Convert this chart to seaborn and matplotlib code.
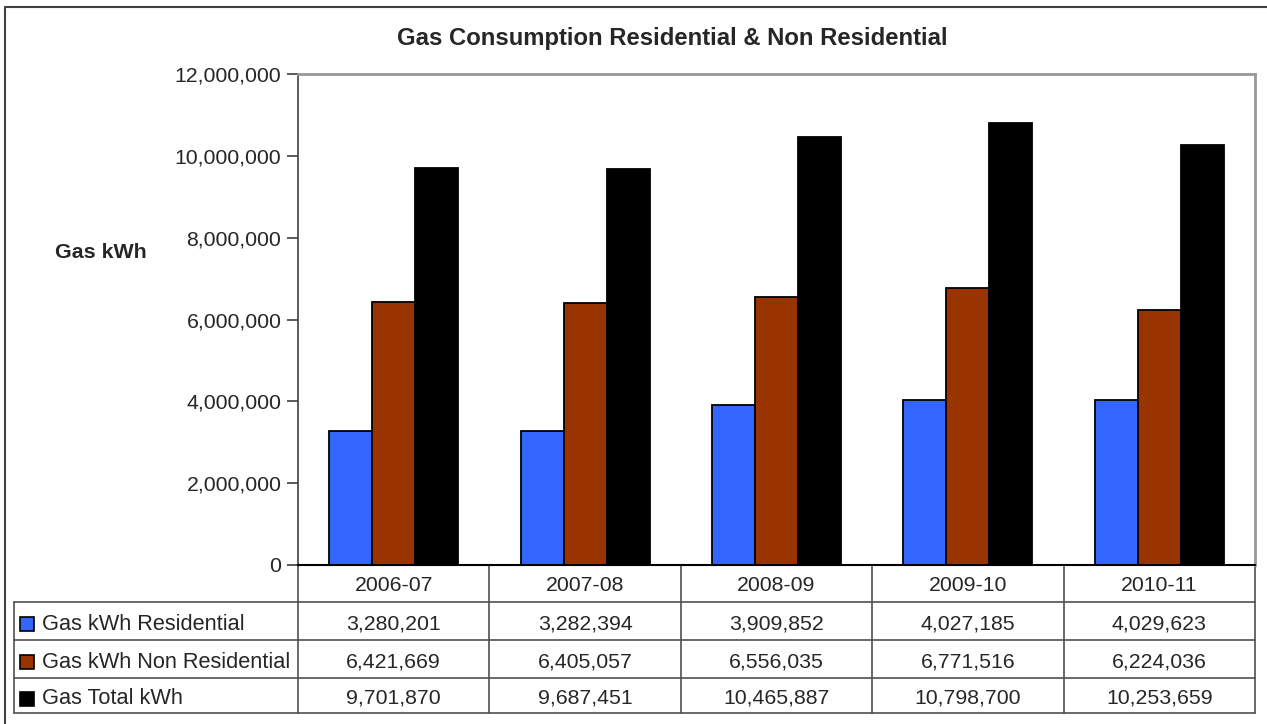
import numpy as np
import pandas as pd
import matplotlib
matplotlib.use("Agg")
import matplotlib.pyplot as plt
import seaborn as sns

years = ["2006-07", "2007-08", "2008-09", "2009-10", "2010-11"]
series_names = ["Gas kWh Residential", "Gas kWh Non Residential", "Gas Total kWh"]
residential = [3280201, 3282394, 3909852, 4027185, 4029623]
non_residential = [6421669, 6405057, 6556035, 6771516, 6224036]
total = [9701870, 9687451, 10465887, 10798700, 10253659]
colors = ["#3366FF", "#993300", "#000000"]
title = "Gas Consumption Residential & Non Residential"
ylabel = "Gas kWh"
yticks = [0, 2000000, 4000000, 6000000, 8000000, 10000000, 12000000]

series_values = [residential, non_residential, total]
rows = []
for name, vals in zip(series_names, series_values):
    for y, v in zip(years, vals):
        rows.append({"Year": y, "Series": name, "Value": v})
df = pd.DataFrame(rows)

sns.set_style("white")
plt.rcParams["font.family"] = ["Liberation Sans", "DejaVu Sans"]

W, H = 1267, 724
fig = plt.figure(figsize=(W / 100, H / 100), dpi=100)

# pixel layout
px_left, px_right = 298, 1255
px_top, px_zero = 74, 565
ax = fig.add_axes([px_left / W, (H - px_zero) / H, (px_right - px_left) / W, (px_zero - px_top) / H])

sns.barplot(data=df, x="Year", y="Value", hue="Series", hue_order=series_names,
            order=years, palette=colors, width=0.675, gap=0, edgecolor="black",
            linewidth=1.3, saturation=1, legend=False, ax=ax)

ax.set_xlim(-0.5, len(years) - 0.5)
ax.set_ylim(0, 12000000)
ax.set_yticks(yticks)
ax.set_yticklabels([f"{t:,}" for t in yticks], fontsize=15.3)
ax.set_xticks([])
ax.set_xlabel("")
ax.set_ylabel("")
ax.tick_params(axis="y", direction="out", length=8, width=1.2, color="#404040", left=True, pad=4)
for s in ["top", "right"]:
    ax.spines[s].set_visible(True)
    ax.spines[s].set_color("#999999")
    ax.spines[s].set_linewidth(2)
ax.spines["left"].set_color("#404040")
ax.spines["left"].set_linewidth(1.2)
ax.spines["bottom"].set_color("#000000")
ax.spines["bottom"].set_linewidth(1.5)

# overlay for title, y label, outer frame and data table
ov = fig.add_axes([0, 0, 1, 1], zorder=-1)
ov.set_xlim(0, W)
ov.set_ylim(H, 0)
ov.axis("off")

# outer frame (left and top visible)
ov.plot([5, 5, 1300], [800, 7, 7], color="#404040", lw=1.5, clip_on=False)

ov.text(672, 38, title, ha="center", va="center", fontsize=17.2, fontweight="bold")
ov.text(101, 253, ylabel, ha="center", va="center", fontsize=15.4, fontweight="bold")

# table
col_w = (px_right - px_left) / len(years)
row_edges = [565, 602, 640, 678, 713]
tab_left = 14
lc = "#505050"
lw = 1.2
# horizontal lines
ov.plot([px_left, px_right], [row_edges[1], row_edges[1]], color=lc, lw=lw)
ov.plot([tab_left, px_left], [row_edges[1], row_edges[1]], color=lc, lw=lw)
for yy in row_edges[2:]:
    ov.plot([tab_left, px_right], [yy, yy], color=lc, lw=lw)
# vertical lines
for i in range(len(years) + 1):
    xx = px_left + i * col_w
    ov.plot([xx, xx], [row_edges[0], row_edges[-1]], color=lc, lw=lw)
ov.plot([tab_left, tab_left], [row_edges[1], row_edges[-1]], color=lc, lw=lw)

# category labels
for i, y in enumerate(years):
    ov.text(px_left + (i + 0.5) * col_w, (row_edges[0] + row_edges[1]) / 2 + 2, y,
            ha="center", va="center", fontsize=15.3)

# series rows
for r, (name, vals, c) in enumerate(zip(series_names, series_values, colors)):
    yc = (row_edges[r + 1] + row_edges[r + 2]) / 2 + 3
    ov.add_patch(plt.Rectangle((20, yc - 7), 14, 14, facecolor=c, edgecolor="black", lw=1.2))
    ov.text(42, yc, name, ha="left", va="center", fontsize=15.7)
    for i, v in enumerate(vals):
        ov.text(px_left + (i + 0.5) * col_w, yc, f"{v:,}", ha="center", va="center", fontsize=15.3)

fig.savefig("out.png", dpi=100, facecolor="white")
